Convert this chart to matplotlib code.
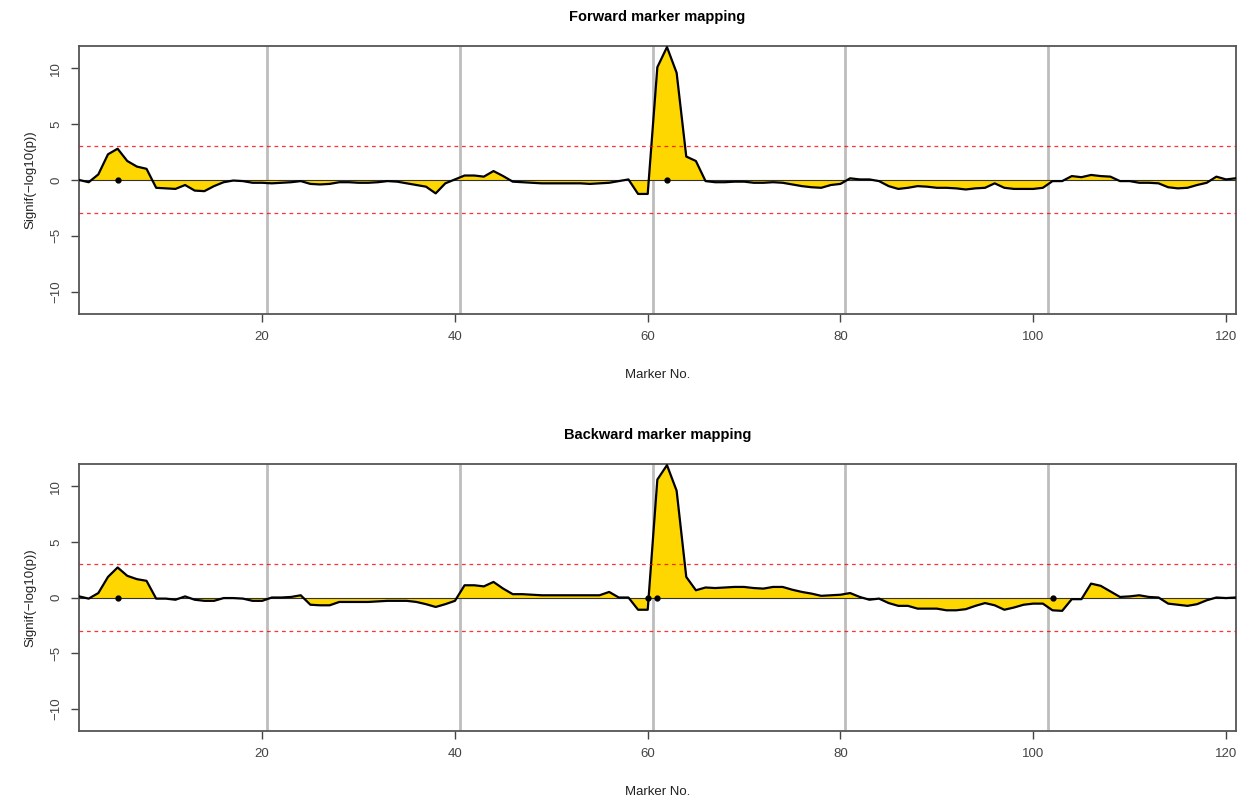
import matplotlib
matplotlib.use("Agg")
import matplotlib.pyplot as plt
import numpy as np

plt.rcParams['font.family'] = ['Liberation Sans', 'DejaVu Sans']

# marker index 1..121
markers = np.arange(1, 122)

forward = [
    0.0, -0.2, 0.5, 2.3, 2.8, 1.7, 1.2, 1.0, -0.7, -0.75,
    -0.8, -0.45, -0.95, -1.0, -0.55, -0.2, -0.05, -0.1, -0.25, -0.25,
    -0.3, -0.25, -0.2, -0.1, -0.35, -0.4, -0.35, -0.2, -0.2, -0.25,
    -0.25, -0.2, -0.1, -0.15, -0.3, -0.45, -0.6, -1.2, -0.3, 0.05,
    0.4, 0.4, 0.3, 0.8, 0.35, -0.15, -0.2, -0.25, -0.3, -0.3,
    -0.3, -0.3, -0.3, -0.35, -0.3, -0.25, -0.1, 0.05, -1.25, -1.25,
    10.1, 11.9, 9.6, 2.1, 1.7, -0.1, -0.2, -0.2, -0.15, -0.15,
    -0.25, -0.25, -0.2, -0.25, -0.4, -0.55, -0.65, -0.7, -0.45, -0.35,
    0.15, 0.05, 0.05, -0.1, -0.55, -0.8, -0.7, -0.55, -0.6, -0.7,
    -0.7, -0.75, -0.85, -0.75, -0.7, -0.3, -0.7, -0.8, -0.8, -0.8,
    -0.7, -0.1, -0.1, 0.35, 0.25, 0.45, 0.35, 0.3, -0.1, -0.1,
    -0.25, -0.25, -0.3, -0.65, -0.75, -0.7, -0.45, -0.25, 0.3, 0.05,
    0.15,
]

backward = [
    0.1, -0.1, 0.4, 1.85, 2.7, 1.95, 1.65, 1.5, -0.1, -0.1,
    -0.2, 0.1, -0.2, -0.3, -0.3, -0.05, -0.05, -0.1, -0.3, -0.3,
    0.0, 0.0, 0.05, 0.2, -0.65, -0.7, -0.7, -0.4, -0.4, -0.4,
    -0.4, -0.35, -0.3, -0.3, -0.3, -0.4, -0.6, -0.85, -0.6, -0.3,
    1.1, 1.1, 1.0, 1.4, 0.8, 0.3, 0.3, 0.25, 0.2, 0.2,
    0.2, 0.2, 0.2, 0.2, 0.2, 0.5, 0.0, 0.0, -1.1, -1.1,
    10.6, 11.9, 9.6, 1.85, 0.65, 0.9, 0.85, 0.9, 0.95, 0.95,
    0.85, 0.8, 0.95, 0.95, 0.7, 0.5, 0.35, 0.15, 0.2, 0.25,
    0.4, 0.05, -0.2, -0.1, -0.5, -0.75, -0.75, -1.0, -1.0, -1.0,
    -1.15, -1.15, -1.05, -0.75, -0.5, -0.7, -1.1, -0.9, -0.65, -0.55,
    -0.55, -1.15, -1.2, -0.15, -0.15, 1.25, 1.05, 0.55, 0.05, 0.1,
    0.2, 0.05, 0.0, -0.55, -0.65, -0.75, -0.6, -0.25, 0.0, -0.05,
    0.0,
]

# chromosome boundaries and selected markers
boundaries = [20.5, 40.5, 60.5, 80.5, 101.5]
forward_selected = [5, 62]
backward_selected = [5, 60, 61, 102]
threshold = 3

panels = [
    ("Forward marker mapping", forward, forward_selected),
    ("Backward marker mapping", backward, backward_selected),
]

fig = plt.figure(figsize=(12.49, 8.01), dpi=100)
axes_pos = [[0.0633, 0.608, 0.926, 0.3346], [0.0633, 0.0874, 0.926, 0.3333]]

for pos, (title, values, selected) in zip(axes_pos, panels):
    ax = fig.add_axes(pos)
    y = np.array(values)
    ax.fill_between(markers, y, 0, color="#FFD700", linewidth=0, zorder=2)
    ax.axhline(0, color="#333333", linewidth=0.8, zorder=3)
    ax.plot(markers, y, color="black", linewidth=1.6, zorder=4)
    for b in boundaries:
        ax.axvline(b, color="#bdbdbd", linewidth=2, zorder=1)
    for t in (threshold, -threshold):
        ax.axhline(t, color="red", linestyle=(0, (3, 3)), linewidth=0.9, alpha=0.8, zorder=5)
    ax.plot(selected, np.zeros(len(selected)), "o", color="black", markersize=3.5, zorder=6)

    ax.set_xlim(1, 121)
    ax.set_ylim(-12, 12)
    ax.set_xticks([20, 40, 60, 80, 100, 120])
    ax.set_yticks([-10, -5, 0, 5, 10])
    ax.tick_params(direction="out", length=6, width=1, colors="#444444", labelsize=9.5, pad=6)
    for lab in ax.get_yticklabels():
        lab.set_rotation(90)
        lab.set_verticalalignment("center")
    for sp in ax.spines.values():
        sp.set_color("#555555")
        sp.set_linewidth(1.3)
    ax.set_title(title, fontsize=10.5, fontweight="bold", pad=18)
    ax.set_xlabel("Marker No.", fontsize=9.5, color="#222222", labelpad=19)
    ax.set_ylabel("Signif(\u2212log10(p))", fontsize=9.5, color="#222222", labelpad=10)

fig.savefig("out.png", dpi=100)
